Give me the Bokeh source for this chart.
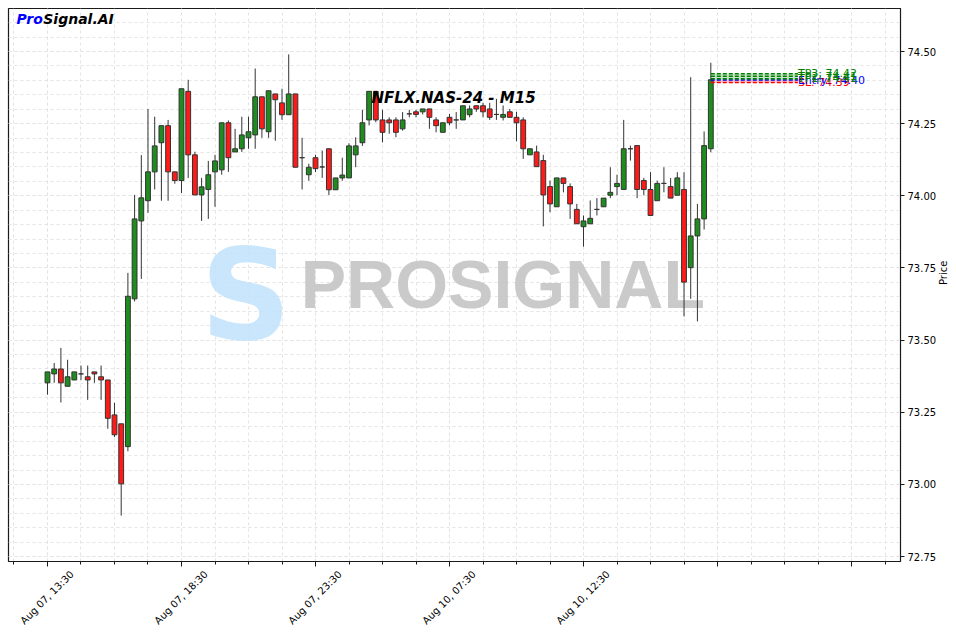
import math
from bokeh.plotting import figure
from bokeh.models import (ColumnDataSource, Range1d, FixedTicker, Label,
                          NumeralTickFormatter, LinearAxis)
from bokeh.embed import file_html
from bokeh.resources import INLINE
from bokeh.core.properties import value

# ---------------- data ----------------
opens = [73.352, 73.383, 73.400, 73.340, 73.362, 73.383, 73.373, 73.390, 73.373, 73.362,
         73.241, 73.210, 73.131, 73.643, 73.913, 73.983, 74.083, 74.184, 74.243, 74.083,
         74.053, 74.362, 74.142, 74.003, 74.022, 74.083, 74.090, 74.253, 74.152, 74.163,
         74.201, 74.211, 74.343, 74.222, 74.353, 74.322, 74.281, 74.353, 74.132, 74.073,
         74.132, 74.100, 74.163, 74.021, 74.062, 74.062, 74.142, 74.184, 74.263, 74.362,
         74.263, 74.263, 74.263, 74.232, 74.284, 74.291, 74.291, 74.301, 74.263, 74.220,
         74.272, 74.263, 74.263, 74.281, 74.312, 74.312, 74.301, 74.282, 74.272, 74.291,
         74.272, 74.263, 74.142, 74.152, 74.122, 74.032, 73.962, 74.062, 74.032, 73.953,
         73.893, 73.903, 73.953, 73.962, 74.002, 74.032, 74.022, 74.163, 74.174, 74.053,
         74.022, 73.983, 74.043, 74.032, 74.002, 74.022, 73.751, 73.861, 73.920, 74.163]
highs = [73.390, 73.421, 73.473, 73.432, 73.390, 73.412, 73.412, 73.390, 73.412, 73.362,
         73.283, 73.210, 73.733, 74.003, 74.141, 74.301, 74.274, 74.243, 74.263, 74.083,
         74.371, 74.402, 74.153, 74.062, 74.121, 74.142, 74.253, 74.261, 74.232, 74.274,
         74.274, 74.441, 74.343, 74.364, 74.353, 74.371, 74.490, 74.353, 74.201, 74.111,
         74.142, 74.157, 74.163, 74.062, 74.132, 74.182, 74.203, 74.298, 74.362, 74.362,
         74.298, 74.272, 74.272, 74.290, 74.298, 74.298, 74.301, 74.301, 74.272, 74.253,
         74.284, 74.290, 74.312, 74.313, 74.312, 74.322, 74.322, 74.336, 74.313, 74.301,
         74.291, 74.272, 74.163, 74.174, 74.142, 74.053, 74.062, 74.062, 74.043, 73.972,
         73.932, 73.984, 73.992, 73.992, 74.099, 74.073, 74.263, 74.174, 74.174, 74.062,
         74.082, 74.053, 74.099, 74.062, 74.082, 74.082, 74.411, 73.972, 74.223, 74.461]
lows = [73.311, 73.352, 73.284, 73.340, 73.362, 73.362, 73.293, 73.352, 73.293, 73.193,
        73.164, 72.892, 73.115, 73.634, 73.712, 73.941, 74.022, 73.983, 73.983, 74.042,
        74.010, 74.062, 74.003, 73.913, 73.920, 73.962, 74.073, 74.083, 74.152, 74.152,
        74.163, 74.163, 74.201, 74.201, 74.191, 74.263, 74.281, 74.099, 74.022, 74.052,
        74.082, 74.062, 74.003, 74.021, 74.052, 74.062, 74.099, 74.173, 74.244, 74.255,
        74.185, 74.215, 74.203, 74.226, 74.272, 74.272, 74.282, 74.232, 74.220, 74.220,
        74.244, 74.232, 74.263, 74.272, 74.291, 74.272, 74.263, 74.263, 74.261, 74.272,
        74.189, 74.128, 74.142, 74.101, 73.894, 73.943, 73.962, 74.012, 73.920, 73.903,
        73.824, 73.903, 73.932, 73.962, 73.992, 74.002, 74.022, 74.122, 73.992, 74.002,
        73.932, 73.983, 74.012, 73.992, 74.002, 73.582, 73.643, 73.565, 73.883, 74.151]
closes = [73.390, 73.400, 73.352, 73.373, 73.390, 73.383, 73.362, 73.383, 73.362, 73.229,
          73.172, 73.002, 73.652, 73.920, 73.993, 74.083, 74.173, 74.243, 74.083, 74.053,
          74.371, 74.142, 74.003, 74.031, 74.073, 74.121, 74.253, 74.132, 74.163, 74.211,
          74.222, 74.343, 74.232, 74.364, 74.333, 74.281, 74.353, 74.099, 74.132, 74.099,
          74.094, 74.100, 74.021, 74.062, 74.072, 74.173, 74.173, 74.253, 74.362, 74.263,
          74.220, 74.253, 74.220, 74.263, 74.284, 74.282, 74.301, 74.272, 74.243, 74.253,
          74.253, 74.263, 74.312, 74.301, 74.301, 74.291, 74.272, 74.282, 74.282, 74.272,
          74.253, 74.163, 74.163, 74.101, 74.003, 73.972, 74.062, 74.043, 73.972, 73.903,
          73.913, 73.922, 73.953, 73.992, 74.012, 74.043, 74.163, 74.163, 74.022, 74.022,
          73.932, 74.043, 74.043, 73.992, 74.062, 73.701, 73.861, 73.920, 74.174, 74.402]

tick_positions = [0, 20, 40, 60, 80, 100, 120]
tick_labels = ["Aug 07, 13:30", "Aug 07, 18:30", "Aug 07, 23:30",
               "Aug 10, 07:30", "Aug 10, 12:30", "", ""]
price_ticks = [72.75, 73.00, 73.25, 73.50, 73.75, 74.00, 74.25, 74.50]

level_names = ["SL", "Entry", "TP1", "TP2", "TP3"]
level_values = [74.393, 74.401, 74.406, 74.414, 74.423]
level_colors = ["red", "blue", "green", "green", "green"]

symbol_title = "NFLX.NAS-24 - M15"

# ---------------- figure ----------------
n = len(closes)
xs = list(range(n))
up = [c >= o for o, c in zip(opens, closes)]
src = ColumnDataSource(dict(
    x=xs, high=highs, low=lows,
    top=[max(o, c) for o, c in zip(opens, closes)],
    bottom=[min(o, c) for o, c in zip(opens, closes)],
    color=["#1e8c1e" if u else "#ff1a1a" for u in up],
))

X0, X1 = -5.82, 127.31
Y0, Y1 = 72.733, 74.649
LABEL_SHIFT = 3.66   # rotated labels are anchored at their right end

p = figure(frame_width=892, frame_height=553,
           x_range=Range1d(X0, X1), y_range=Range1d(Y0, Y1),
           y_axis_location="right", toolbar_location=None, output_backend="svg",
           min_border_left=8, min_border_top=8, min_border_bottom=4,
           min_border_right=4)
p.extra_x_ranges = {"lab": Range1d(X0 - LABEL_SHIFT, X1 - LABEL_SHIFT)}
p.background_fill_color = "white"
p.border_fill_color = "white"
p.outline_line_color = "#1a1a1a"
p.outline_line_width = 1.2
p.outline_line_alpha = 1

# grids
minor_x = [v for v in range(-5, 126, 5)]
minor_y = [round(72.75 + 0.05 * k, 2) for k in range(0, 38)]
p.xaxis.ticker = FixedTicker(ticks=tick_positions, minor_ticks=minor_x)
p.xgrid.ticker = FixedTicker(ticks=tick_positions, minor_ticks=minor_x)
p.yaxis.ticker = FixedTicker(ticks=price_ticks, minor_ticks=minor_y)
p.ygrid.ticker = FixedTicker(ticks=price_ticks, minor_ticks=minor_y)
for g in (p.xgrid, p.ygrid):
    g.grid_line_color = "#e4e4e4"
    g.grid_line_dash = "3 3"
    g.grid_line_width = 1
    g.minor_grid_line_color = "#e4e4e4"
    g.minor_grid_line_dash = "3 3"
    g.minor_grid_line_width = 1

# x axis: tick marks only (its own labels are not drawn)
p.xaxis.major_label_text_color = None
p.xaxis.major_label_text_font_size = "0px"
p.xaxis.major_label_standoff = 0
p.xaxis.major_tick_out = 5
p.xaxis.major_tick_in = 0
p.xaxis.minor_tick_out = 3
p.xaxis.minor_tick_in = 0
p.xaxis.axis_line_color = "#1a1a1a"
p.xaxis.major_tick_line_color = "#1a1a1a"
p.xaxis.minor_tick_line_color = "#1a1a1a"

# x axis labels: rotated, centred under each tick
lab_ticks = [t for t, l in zip(tick_positions, tick_labels) if l]
lab_axis = LinearAxis(x_range_name="lab",
                      ticker=FixedTicker(ticks=lab_ticks, minor_ticks=[]),
                      major_label_overrides={t: l for t, l in zip(tick_positions, tick_labels) if l},
                      major_label_orientation=math.pi / 4,
                      major_label_standoff=6,
                      major_label_text_font="DejaVu Sans",
                      major_label_text_font_size="10px",
                      major_label_text_color="black",
                      axis_line_color=None, major_tick_line_color=None,
                      minor_tick_line_color=None, major_tick_out=0, major_tick_in=0)
p.add_layout(lab_axis, "below")

# y axis
p.yaxis.formatter = NumeralTickFormatter(format="0.00")
p.yaxis.axis_label = "Price"
p.yaxis.axis_label_orientation = math.pi / 2
p.yaxis.axis_label_text_font = "DejaVu Sans"
p.yaxis.axis_label_text_font_size = "10px"
p.yaxis.axis_label_text_font_style = "normal"
p.yaxis.axis_label_text_color = "black"
p.yaxis.axis_label_standoff = 4
p.yaxis.major_label_text_font = "DejaVu Sans"
p.yaxis.major_label_text_font_size = "10px"
p.yaxis.major_label_text_color = "black"
p.yaxis.major_label_standoff = 3
p.yaxis.major_tick_out = 4
p.yaxis.major_tick_in = 0
p.yaxis.minor_tick_line_color = None
p.yaxis.axis_line_color = "#1a1a1a"
p.yaxis.major_tick_line_color = "#1a1a1a"

# watermark
p.add_layout(Label(x=29.6, y=73.653, text="S", text_font="DejaVu Sans",
                   text_font_style="bold", text_font_size="126px",
                   text_color="#bfe2fb", text_alpha=0.85, text_align="center",
                   text_baseline="middle", level="underlay"))
p.add_layout(Label(x=37.8, y=73.693, text="PROSIGNAL", text_font="Liberation Sans",
                   text_font_style="bold", text_font_size="68px",
                   text_color="#c4c4c4", text_alpha=0.9, text_align="left",
                   text_baseline="middle", level="underlay"))

# candles
p.segment(x0="x", y0="low", x1="x", y1="high", source=src,
          line_color="#333333", line_width=1)
p.vbar(x="x", width=0.72, top="top", bottom="bottom", source=src,
       fill_color="color", line_color="#333333", line_width=1)

# trade levels
t0 = n - 1
t1 = t0 + 13
entry = level_values[level_names.index("Entry")]
sl = level_values[level_names.index("SL")]
tp_top = max(level_values)
p.varea(x=[t0, t1], y1=[entry, entry], y2=[tp_top, tp_top],
        fill_color="green", fill_alpha=0.22)
p.varea(x=[t0, t1], y1=[sl, sl], y2=[entry, entry],
        fill_color="red", fill_alpha=0.22)
p.segment(x0=[t0] * len(level_values), y0=level_values,
          x1=[t1] * len(level_values), y1=level_values,
          line_color=level_colors, line_dash="4 2", line_width=1.5)
p.text(x=[t1] * len(level_values), y=level_values,
       text=[f"{nm}: {v:.2f}" for nm, v in zip(level_names, level_values)],
       text_color=level_colors, text_font=value("DejaVu Sans"),
       text_font_size="11px", text_baseline="alphabetic", text_align="left")

# titles
p.add_layout(Label(x=60.6, y=74.340, text=symbol_title, text_font="DejaVu Sans",
                   text_font_style="bold italic", text_font_size="15px",
                   text_align="center", text_baseline="middle", text_color="black"))
p.add_layout(Label(x=-4.63, y=74.611, text="Pro", text_font="DejaVu Sans",
                   text_font_style="bold italic", text_font_size="14px",
                   text_align="left", text_baseline="middle", text_color="blue"))
p.add_layout(Label(x=-0.63, y=74.611, text="Signal.AI", text_font="DejaVu Sans",
                   text_font_style="bold italic", text_font_size="14px",
                   text_align="left", text_baseline="middle", text_color="black"))

open("out.html", "w").write(file_html(p, INLINE))
